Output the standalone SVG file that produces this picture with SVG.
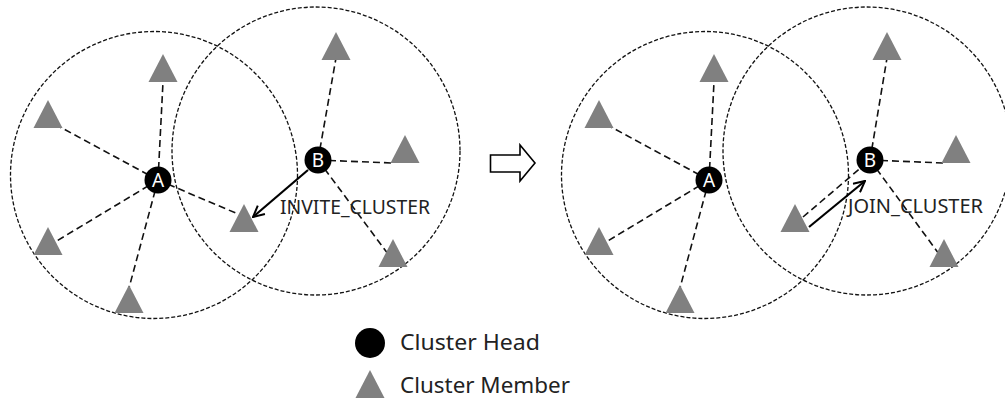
<svg xmlns="http://www.w3.org/2000/svg" width="1005" height="401" viewBox="0 0 1005 401">
<style>
.range{fill:none;stroke:#111;stroke-width:1.3;stroke-dasharray:4 2}
.link{stroke:#111;stroke-width:1.6;stroke-dasharray:7 4;fill:none}
.msg{stroke:#000;stroke-width:2.2;fill:none;marker-end:url(#open)}
.head{fill:#000}
.hl{fill:#fff;font-family:"Noto Sans","Liberation Sans",sans-serif;font-size:19px;text-anchor:middle}
.mem{fill:#808080}
.lbl{fill:#222;font-family:"Noto Sans","Liberation Sans",sans-serif;font-size:19px}
.leg{fill:#222;font-family:"Noto Sans","Liberation Sans",sans-serif;font-size:22px}
</style>
<defs>
<marker id="open" viewBox="0 0 12 12" refX="11" refY="6" markerWidth="6" markerHeight="6" orient="auto" markerUnits="strokeWidth">
<path d="M1,1 L11,6 L1,11" fill="none" stroke="#000" stroke-width="1.8"/>
</marker>
<path id="tri" d="M0,0 L14.5,28 L-14.5,28 Z"/>
</defs>
<rect width="1005" height="401" fill="#fff"/>
<g id="ranges">
<circle class="range" cx="154" cy="175" r="143.5"/>
<circle class="range" cx="316" cy="151" r="144"/>
<circle class="range" cx="705" cy="175" r="143.5"/>
<circle class="range" cx="867" cy="151" r="144"/>
</g>
<g id="connectors">
<line class="link" x1="158" y1="180" x2="163" y2="82"/>
<line class="link" x1="158" y1="180" x2="60" y2="127"/>
<line class="link" x1="158" y1="180" x2="55" y2="242"/>
<line class="link" x1="158" y1="180" x2="129" y2="288"/>
<line class="link" x1="158" y1="180" x2="238" y2="214"/>
<line class="link" x1="318" y1="160" x2="336" y2="58"/>
<line class="link" x1="318" y1="160" x2="392" y2="163"/>
<line class="link" x1="318" y1="160" x2="388" y2="254"/>
<line class="msg" x1="308" y1="170" x2="253" y2="217"/>
<line class="link" x1="709" y1="180" x2="714" y2="82"/>
<line class="link" x1="709" y1="180" x2="611" y2="127"/>
<line class="link" x1="709" y1="180" x2="606" y2="242"/>
<line class="link" x1="709" y1="180" x2="680" y2="288"/>
<line class="link" x1="803" y1="217" x2="870" y2="160"/>
<line class="link" x1="870" y1="160" x2="887" y2="58"/>
<line class="link" x1="870" y1="160" x2="943" y2="163"/>
<line class="link" x1="870" y1="160" x2="939" y2="254"/>
<line class="msg" x1="809" y1="227" x2="865" y2="181"/>
</g>
<g id="members-left">
<use href="#tri" class="mem" x="163" y="54"/>
<use href="#tri" class="mem" x="48" y="100"/>
<use href="#tri" class="mem" x="48" y="227"/>
<use href="#tri" class="mem" x="129" y="285"/>
<use href="#tri" class="mem" x="244" y="204"/>
<use href="#tri" class="mem" x="336" y="32"/>
<use href="#tri" class="mem" x="405" y="135"/>
<use href="#tri" class="mem" x="393" y="239"/>
</g>
<g id="members-right">
<use href="#tri" class="mem" x="714" y="54"/>
<use href="#tri" class="mem" x="599" y="100"/>
<use href="#tri" class="mem" x="599" y="227"/>
<use href="#tri" class="mem" x="680" y="285"/>
<use href="#tri" class="mem" x="795" y="204"/>
<use href="#tri" class="mem" x="887" y="32"/>
<use href="#tri" class="mem" x="956" y="135"/>
<use href="#tri" class="mem" x="944" y="239"/>
</g>
<g id="node-A-left"><circle class="head" cx="158" cy="180" r="13.5"/><text class="hl" x="158" y="187">A</text></g>
<g id="node-B-left"><circle class="head" cx="318" cy="160" r="13.5"/><text class="hl" x="318" y="167">B</text></g>
<g id="node-A-right"><circle class="head" cx="709" cy="180" r="13.5"/><text class="hl" x="709" y="187">A</text></g>
<g id="node-B-right"><circle class="head" cx="870" cy="160" r="13.5"/><text class="hl" x="870" y="167">B</text></g>
<g id="label-invite"><text class="lbl" x="280" y="214" textLength="150" lengthAdjust="spacingAndGlyphs">INVITE_CLUSTER</text></g>
<g id="label-join"><text class="lbl" x="848" y="213" textLength="135" lengthAdjust="spacingAndGlyphs">JOIN_CLUSTER</text></g>
<g id="transition-arrow">
<path d="M490.5,155 L520,155 L520,145 L535,163 L520,181 L520,172 L490.5,172 Z" fill="#fff" stroke="#000" stroke-width="1.6"/>
</g>
<g id="legend">
<circle class="head" cx="370" cy="343" r="15"/>
<text class="leg" x="400" y="350" textLength="140" lengthAdjust="spacingAndGlyphs">Cluster Head</text>
<use href="#tri" class="mem" x="370" y="370"/>
<text class="leg" x="400" y="393" textLength="170" lengthAdjust="spacingAndGlyphs">Cluster Member</text>
</g>
</svg>
